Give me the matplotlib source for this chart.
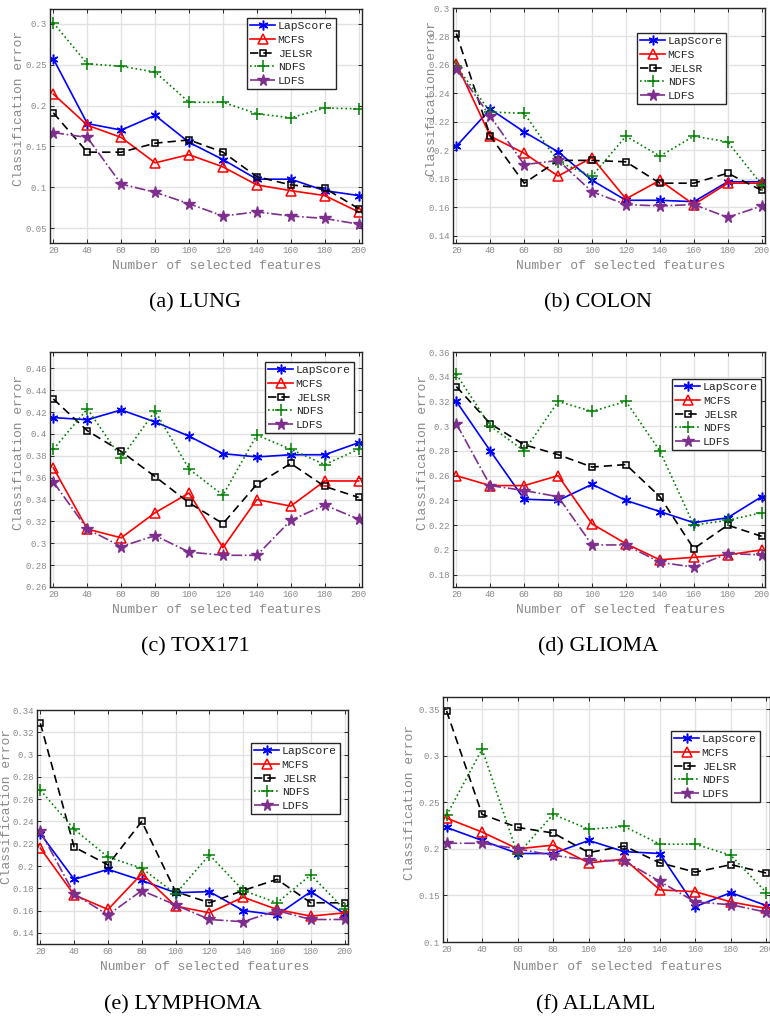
import numpy as np
import matplotlib
matplotlib.use('Agg')
import matplotlib.pyplot as plt
from matplotlib.ticker import FuncFormatter

W, H = 770, 1017

# number of selected features (x axis)
features = [20, 40, 60, 80, 100, 120, 140, 160, 180, 200]
methods = ['LapScore', 'MCFS', 'JELSR', 'NDFS', 'LDFS']

# (a) LUNG
lung_lap = [0.257, 0.178, 0.170, 0.188, 0.155, 0.134, 0.110, 0.110, 0.096, 0.090]
lung_mcfs = [0.214, 0.176, 0.161, 0.130, 0.140, 0.125, 0.103, 0.096, 0.090, 0.070]
lung_jelsr = [0.191, 0.143, 0.143, 0.154, 0.158, 0.143, 0.113, 0.103, 0.099, 0.074]
lung_ndfs = [0.301, 0.251, 0.248, 0.241, 0.204, 0.204, 0.190, 0.185, 0.197, 0.196]
lung_ldfs = [0.167, 0.161, 0.104, 0.094, 0.080, 0.065, 0.070, 0.065, 0.062, 0.055]

# (b) COLON
colon_lap = [0.203, 0.229, 0.213, 0.199, 0.179, 0.165, 0.165, 0.164, 0.178, 0.178]
colon_mcfs = [0.261, 0.210, 0.198, 0.182, 0.195, 0.166, 0.179, 0.162, 0.177, 0.177]
colon_jelsr = [0.282, 0.210, 0.177, 0.193, 0.193, 0.192, 0.177, 0.177, 0.184, 0.172]
colon_ndfs = [0.259, 0.227, 0.226, 0.192, 0.182, 0.210, 0.196, 0.210, 0.206, 0.176]
colon_ldfs = [0.257, 0.224, 0.190, 0.193, 0.171, 0.162, 0.161, 0.162, 0.153, 0.161]

# (c) TOX171
tox_lap = [0.415, 0.413, 0.422, 0.411, 0.398, 0.382, 0.379, 0.381, 0.381, 0.392]
tox_mcfs = [0.369, 0.313, 0.305, 0.328, 0.346, 0.296, 0.340, 0.334, 0.357, 0.357]
tox_jelsr = [0.432, 0.403, 0.384, 0.361, 0.337, 0.318, 0.354, 0.373, 0.352, 0.342]
tox_ndfs = [0.386, 0.423, 0.378, 0.421, 0.368, 0.344, 0.399, 0.386, 0.372, 0.386]
tox_ldfs = [0.356, 0.313, 0.297, 0.307, 0.292, 0.289, 0.289, 0.321, 0.335, 0.322]

# (d) GLIOMA
glioma_lap = [0.320, 0.280, 0.241, 0.240, 0.253, 0.240, 0.231, 0.222, 0.226, 0.243]
glioma_mcfs = [0.260, 0.252, 0.252, 0.260, 0.221, 0.205, 0.192, 0.194, 0.196, 0.200]
glioma_jelsr = [0.332, 0.302, 0.285, 0.277, 0.267, 0.269, 0.243, 0.201, 0.220, 0.211]
glioma_ndfs = [0.342, 0.300, 0.280, 0.320, 0.312, 0.320, 0.280, 0.220, 0.224, 0.230]
glioma_ldfs = [0.302, 0.252, 0.248, 0.243, 0.204, 0.204, 0.190, 0.186, 0.197, 0.196]

# (e) LYMPHOMA
lymph_lap = [0.229, 0.188, 0.197, 0.187, 0.176, 0.177, 0.160, 0.156, 0.177, 0.157]
lymph_mcfs = [0.216, 0.174, 0.161, 0.193, 0.164, 0.158, 0.172, 0.161, 0.155, 0.158]
lymph_jelsr = [0.328, 0.217, 0.201, 0.240, 0.177, 0.167, 0.178, 0.188, 0.167, 0.167]
lymph_ndfs = [0.268, 0.233, 0.208, 0.198, 0.175, 0.210, 0.178, 0.167, 0.192, 0.161]
lymph_ldfs = [0.231, 0.175, 0.156, 0.178, 0.165, 0.152, 0.150, 0.160, 0.152, 0.152]

# (f) ALLAML
allaml_lap = [0.223, 0.209, 0.195, 0.195, 0.209, 0.197, 0.195, 0.138, 0.153, 0.139]
allaml_mcfs = [0.233, 0.218, 0.200, 0.204, 0.185, 0.189, 0.156, 0.154, 0.143, 0.136]
allaml_jelsr = [0.348, 0.237, 0.223, 0.217, 0.196, 0.203, 0.185, 0.175, 0.183, 0.174]
allaml_ndfs = [0.236, 0.307, 0.194, 0.237, 0.221, 0.224, 0.205, 0.205, 0.193, 0.153]
allaml_ldfs = [0.206, 0.206, 0.200, 0.193, 0.188, 0.187, 0.165, 0.143, 0.140, 0.132]

captions = ['(a) LUNG', '(b) COLON', '(c) TOX171', '(d) GLIOMA', '(e) LYMPHOMA', '(f) ALLAML']
series = [
    [lung_lap, lung_mcfs, lung_jelsr, lung_ndfs, lung_ldfs],
    [colon_lap, colon_mcfs, colon_jelsr, colon_ndfs, colon_ldfs],
    [tox_lap, tox_mcfs, tox_jelsr, tox_ndfs, tox_ldfs],
    [glioma_lap, glioma_mcfs, glioma_jelsr, glioma_ndfs, glioma_ldfs],
    [lymph_lap, lymph_mcfs, lymph_jelsr, lymph_ndfs, lymph_ldfs],
    [allaml_lap, allaml_mcfs, allaml_jelsr, allaml_ndfs, allaml_ldfs],
]
yranges = [(0.032, 0.318), (0.135, 0.30), (0.26, 0.475), (0.17, 0.36), (0.13, 0.34), (0.10, 0.363)]
yticks = [np.arange(0.05, 0.301, 0.05), np.arange(0.14, 0.301, 0.02), np.arange(0.26, 0.461, 0.02),
          np.arange(0.18, 0.361, 0.02), np.arange(0.14, 0.341, 0.02), np.arange(0.10, 0.351, 0.05)]

styles = {
    'LapScore': dict(color='#0000ff', ls='-', marker=(6, 2, 0), ms=7, mew=1.1),
    'MCFS': dict(color='#ff0000', ls='-', marker='^', ms=7, mfc='none', mew=1.1),
    'JELSR': dict(color='black', ls=(0, (5, 3)), marker='s', ms=4.5, mfc='none', mew=1.1),
    'NDFS': dict(color='#008000', ls=':', marker='+', ms=8, mew=1.1),
    'LDFS': dict(color='#7e2f8e', ls='-.', marker='*', ms=8.5),
}

# layout in pixels: axes box (left, top, right, bottom), legend top-left,
# xlabel centre, ylabel centre, caption centre
boxes = [(50, 9, 362, 243), (453, 8, 765, 243), (50, 352, 362, 587),
         (453, 352, 765, 587), (37, 710, 348, 944), (443, 697, 770, 942)]
legpos = [(247, 18), (637, 33), (265, 362), (672, 379), (251, 743), (671, 731)]
xlabpos = [(217, 266), (621, 266), (217, 610), (621, 610), (205, 967), (618, 967)]
ylabpos = [(19, 109), (432, 99), (19, 452), (423, 452), (7, 807), (410, 802)]
cappos = [(195, 303), (598, 303), (195, 647), (598, 647), (183, 1005), (596, 1005)]

mono = 'Liberation Mono'
gray = '#8a8a8a'
dark = '#262626'

fig = plt.figure(figsize=(W / 100, H / 100), dpi=100)

for i in range(6):
    l, t, r, b = boxes[i]
    ax = fig.add_axes([l / W, 1 - b / H, (r - l) / W, (b - t) / H])
    for name, ys in zip(methods, series[i]):
        ax.plot(features, ys, label=name, lw=1.2, **styles[name])
    ax.set_xlim(18, 202)
    ax.set_ylim(*yranges[i])
    ax.set_xticks(features)
    ax.set_yticks(yticks[i])
    ax.yaxis.set_major_formatter(FuncFormatter(lambda v, p: '%g' % round(v, 3)))
    ax.grid(True, color='#e2e2e2', lw=1.0)
    ax.set_axisbelow(True)
    ax.tick_params(direction='in', top=True, right=True, length=3, width=0.7,
                   color=dark, labelcolor=gray, labelsize=6.5, pad=2.5)
    for lab in ax.get_xticklabels() + ax.get_yticklabels():
        lab.set_fontfamily(mono)
    for s in ax.spines.values():
        s.set_color(dark)
        s.set_linewidth(1.0)

    ax.set_xlabel('Number of selected features', fontfamily=mono, fontsize=9.4,
                  color=gray, va='center')
    ax.xaxis.set_label_coords(xlabpos[i][0] / W, 1 - xlabpos[i][1] / H, transform=fig.transFigure)
    ax.set_ylabel('Classification error', fontfamily=mono, fontsize=9.4,
                  color=gray, va='center', ha='center')
    ax.yaxis.set_label_coords(ylabpos[i][0] / W, 1 - ylabpos[i][1] / H, transform=fig.transFigure)

    leg = ax.legend(loc='upper left', bbox_to_anchor=(legpos[i][0] / W, 1 - legpos[i][1] / H),
                    bbox_transform=fig.transFigure, borderaxespad=0, fancybox=False,
                    framealpha=1, edgecolor=dark, numpoints=1, handlelength=2.2,
                    handletextpad=0.2, borderpad=0.3, labelspacing=0.32,
                    prop={'family': mono, 'size': 8.2})
    leg.get_frame().set_linewidth(1.0)
    for txt in leg.get_texts():
        txt.set_color(dark)

    fig.text(cappos[i][0] / W, 1 - cappos[i][1] / H, captions[i], ha='center', va='center',
             fontfamily='Liberation Serif', fontsize=16)

fig.savefig('out.png', dpi=100)
